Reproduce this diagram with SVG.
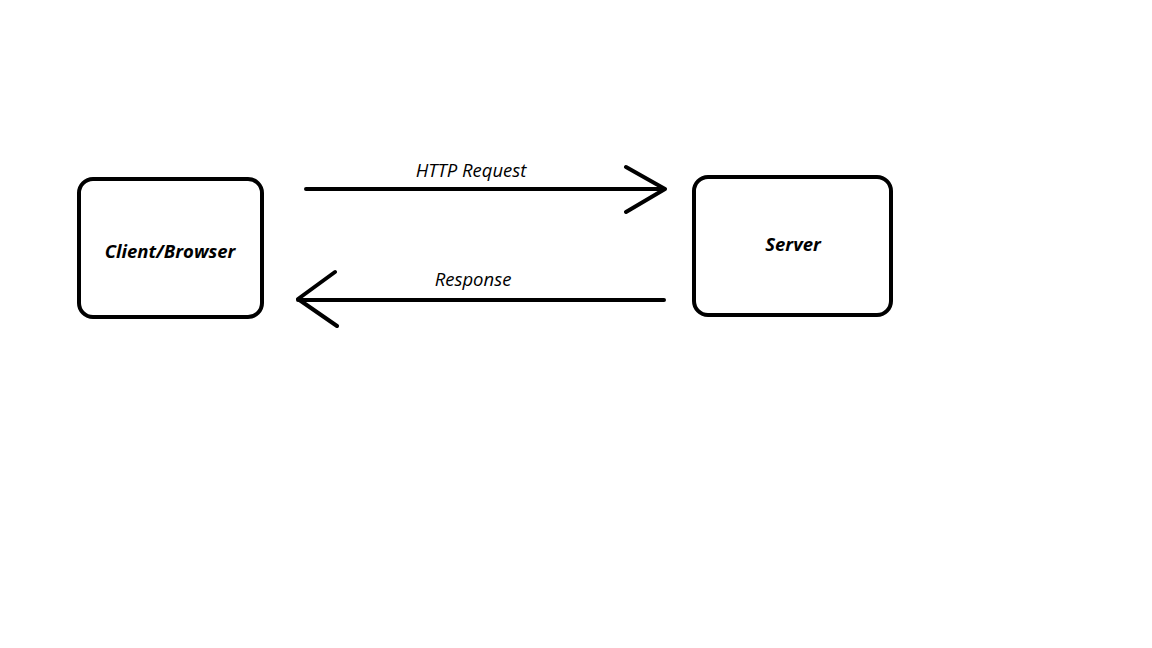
<svg xmlns="http://www.w3.org/2000/svg" width="1152" height="648" viewBox="0 0 1152 648">
<style>
.box{fill:#fff;stroke:#000;stroke-width:4}
.ln{fill:none;stroke:#000;stroke-width:4;stroke-linecap:round;stroke-linejoin:round}
.lbl{font-family:"Open Sans","Noto Sans",sans-serif;font-style:italic;font-size:18.5px;fill:#000;text-anchor:middle}
.nt{font-family:"Open Sans","Noto Sans",sans-serif;font-style:italic;font-weight:bold;font-size:18.5px;fill:#000;text-anchor:middle}
</style>
<rect width="1152" height="648" fill="#fff"/>
<g id="client">
<rect class="box" x="79" y="179" width="183" height="138" rx="14"/>
<text class="nt" x="170" y="258">Client/Browser</text>
</g>
<g id="server">
<rect class="box" x="694" y="177" width="197" height="138" rx="14"/>
<text class="nt" x="793" y="251">Server</text>
</g>
<g id="connectors">
<path class="ln" d="M306,189 H665 M626,167 L665,189 L626,212"/>
<text class="lbl" x="471" y="177">HTTP Request</text>
<path class="ln" d="M664,300 H298 M335,272 L298,299 L337,326"/>
<text class="lbl" x="473" y="286">Response</text>
</g>
</svg>
